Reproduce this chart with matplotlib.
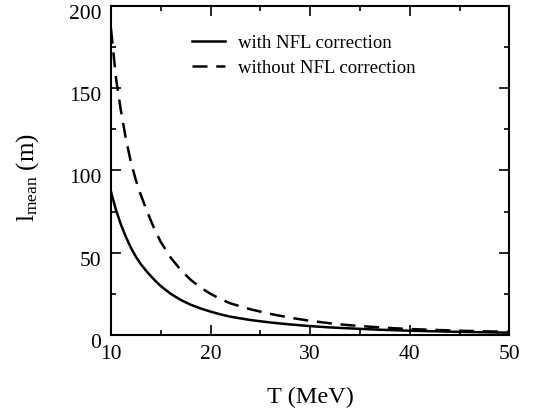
import matplotlib
matplotlib.use("Agg")
import matplotlib.pyplot as plt
from matplotlib.ticker import MultipleLocator
from matplotlib.transforms import ScaledTranslation

plt.rcParams.update({
    "font.family": "serif",
    "font.serif": ["Liberation Serif", "DejaVu Serif"],
    "mathtext.fontset": "custom",
    "mathtext.rm": "Liberation Serif",
    "mathtext.it": "Liberation Serif:italic",
    "font.size": 15,
})

# temperature (MeV)
T = [10, 10.5, 11, 11.5, 12, 12.5, 13, 13.5, 14, 14.5, 15, 16, 17, 18, 19, 20,
     21, 22, 24, 26, 28, 30, 32, 34, 37, 40, 45, 50]
# mean free path (m) with the NFL correction
l_nfl = [87, 76, 67, 59.5, 53, 47.5, 43, 39.2, 35.8, 32.6, 29.7, 25.0, 21.3, 18.4,
         16.1, 14.2, 12.5, 11.1, 9.1, 7.6, 6.4, 5.4, 4.6, 4.0, 3.2, 2.6, 1.9, 1.4]
# without the NFL correction
l_plain = [186, 156, 136, 119, 105, 94, 85, 77, 69.5, 62.5, 56.5, 47, 39.5, 33.5,
           28.8, 25, 21.8, 19.2, 15.6, 12.8, 10.5, 8.6, 7.1, 5.9, 4.6, 3.6, 2.6, 1.9]

labels = ["with NFL correction", "without NFL correction"]

fig = plt.figure(figsize=(5.37, 4.09), dpi=100)
ax = fig.add_axes([111 / 537, 1 - 335 / 409, 398.3 / 537, 329.3 / 409])

ax.plot(T, l_nfl, "-", color="black", lw=1.8, label=labels[0])
ax.plot(T, l_plain, color="black", lw=1.8, ls=(0, (6, 3.5)), label=labels[1])

ax.set_xlim(10, 50)
ax.set_ylim(0, 200)
ax.xaxis.set_major_locator(MultipleLocator(10))
ax.xaxis.set_minor_locator(MultipleLocator(5))
ax.yaxis.set_major_locator(MultipleLocator(50))
ax.yaxis.set_minor_locator(MultipleLocator(25))
ax.tick_params(which="both", direction="in", top=True, right=True, width=1.2)
ax.tick_params(which="major", length=7, pad=7, labelsize=15.5)
ax.tick_params(which="minor", length=3.3)
for s in ax.spines.values():
    s.set_linewidth(1.5)

# the y tick numbers sit a little below their ticks in the original
shift = ScaledTranslation(0, -0.06, fig.dpi_scale_trans)
for lab in ax.get_yticklabels():
    lab.set_transform(lab.get_transform() + shift)

ax.set_xlabel("T (MeV)", fontsize=17.5)
ax.set_ylabel(r"l$_{\mathrm{mean}}$ (m)", fontsize=18)
ax.xaxis.set_label_coords(0.5, -0.158)
ax.yaxis.set_label_coords(-0.177, 0.477)

ax.legend(loc="upper left", bbox_to_anchor=(0.184, 0.934), frameon=False,
          fontsize=13.5, handlelength=1.75, handletextpad=0.7, labelspacing=0.42,
          borderaxespad=0)

fig.savefig("out.png", dpi=100, facecolor="white")
